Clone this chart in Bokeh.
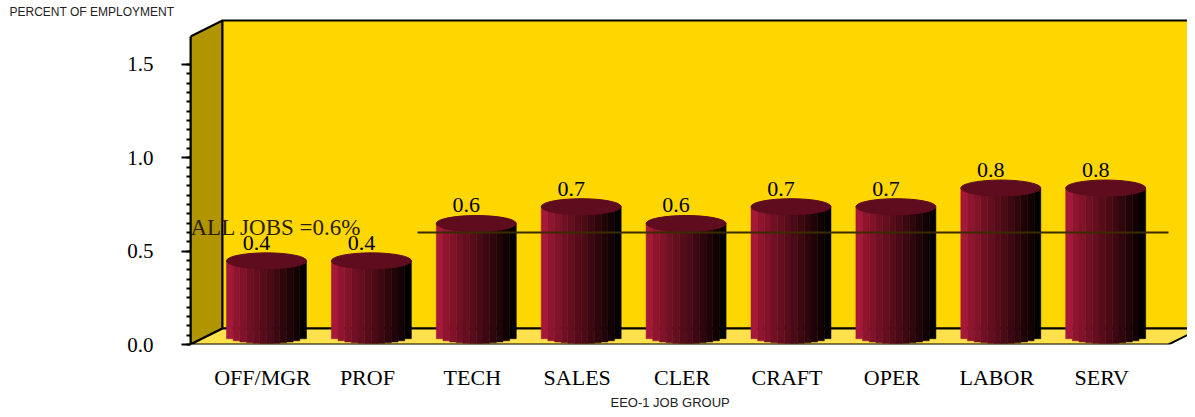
import math
from bokeh.plotting import figure
from bokeh.models import LinearAxis, Range1d, FixedTicker, NumeralTickFormatter, Title
from bokeh.core.properties import value
from bokeh.embed import file_html
from bokeh.resources import INLINE

categories = ["OFF/MGR", "PROF", "TECH", "SALES", "CLER", "CRAFT", "OPER", "LABOR", "SERV"]
values = [0.4, 0.4, 0.6, 0.69, 0.6, 0.69, 0.69, 0.79, 0.79]
all_jobs = 0.6
y_ticks = [0.0, 0.5, 1.0, 1.5]
strip_colors = ["#a6183a", "#8e1430", "#80122a", "#701026", "#640e20", "#570c1c",
                "#4a0a18", "#3c0813", "#2e060e", "#20040a", "#120205", "#030001"]
top_color = "#5e0c1e"
wall_back = "#ffd700"
wall_left = "#b09500"
floor_color = "#ffe04d"
serif = "Liberation Serif"

W, H = 1187, 409
PXX, PXY = 104.9, 186.67
LEFT = 190
BOTTOM = 65
TOP = 18
FRAME_W = W - LEFT
FRAME_H = H - BOTTOM - TOP
x0 = (LEFT - 266) / PXX
x_rng = Range1d(x0, x0 + FRAME_W / PXX)
y_rng = Range1d(0, FRAME_H / PXY)

p = figure(width=W, height=H, x_range=x_rng, y_range=y_rng, output_backend="svg",
           toolbar_location=None, x_axis_type=None, y_axis_type=None,
           frame_width=FRAME_W, frame_height=FRAME_H,
           min_border_left=LEFT, min_border_right=0, min_border_top=TOP, min_border_bottom=BOTTOM)
p.grid.visible = False
p.outline_line_color = None
p.background_fill_color = "white"
p.border_fill_color = "white"

dx, dy = 32 / PXX, 16 / PXY
wall_top = 1.65
xl, xr = x_rng.start, x_rng.end
front_r = (1168 - 266) / PXX

# walls and floor
p.patch([xl, xl + dx, xl + dx, xl], [0, dy, wall_top + dy, wall_top], fill_color=wall_left,
        line_color="black", line_width=2)
p.patch([xl + dx, xr + 2, xr + 2, xl + dx], [dy, dy, wall_top + dy, wall_top + dy],
        fill_color=wall_back, line_color="black", line_width=2)
p.patch([xl, xl + dx, front_r + dx, front_r], [0, dy, dy, 0], fill_color=floor_color,
        line_color="black", line_width=2)

# cylinders
bar_w = 80 / PXX
base = 9 / PXY
ry = 8 / PXY
n = len(strip_colors)
for i, v in enumerate(values):
    for k, c in enumerate(strip_colors):
        u = (k + 0.5) / n * 2 - 1
        p.quad(left=i - bar_w / 2 + k * bar_w / n, right=i - bar_w / 2 + (k + 1) * bar_w / n,
               bottom=base - ry * math.sqrt(1 - u * u), top=base + v,
               fill_color=c, line_color=c, line_width=0.5)
    p.ellipse(x=i, y=base + v, width=bar_w, height=2 * ry, fill_color=top_color, line_color=top_color)

# reference line and labels
p.line([(417 - 266) / PXX, front_r], [all_jobs, all_jobs], line_color="#3a2c00", line_width=2)
p.text(x=list(range(len(values))), y=[base + v + ry for v in values],
       text=[f"{v:.1f}" for v in values], text_font=value(serif), text_font_size="22px",
       text_align="center", text_baseline="alphabetic", x_offset=-10, y_offset=-10, text_color="black")
p.text(x=[xl], y=[all_jobs], text=[f"ALL JOBS ={all_jobs:.1f}%"], text_font=value(serif),
       text_font_size="23px", text_align="left", text_baseline="alphabetic", y_offset=-5,
       text_color="#2a2000")

ya = LinearAxis(ticker=FixedTicker(ticks=y_ticks, minor_ticks=[j * 0.05 for j in range(0, 31)]),
                bounds=(0, wall_top), formatter=NumeralTickFormatter(format="0.0"))
ya.axis_line_color = "black"
ya.axis_line_width = 2
ya.major_tick_line_width = 2
ya.major_tick_in = 0
ya.major_tick_out = 9
ya.minor_tick_in = 0
ya.minor_tick_out = 4
ya.minor_tick_line_width = 2
ya.major_label_standoff = 28
ya.major_label_text_font = serif
ya.major_label_text_font_size = "21px"
ya.major_label_text_color = "black"
p.add_layout(ya, "left")

lab_shift = 4 / PXX
p.extra_x_ranges["xlab"] = Range1d(xl + lab_shift, xr + lab_shift)
xa = LinearAxis(x_range_name="xlab", ticker=FixedTicker(ticks=list(range(len(categories)))),
                major_label_overrides={i: c for i, c in enumerate(categories)})
xa.axis_line_color = None
xa.major_tick_line_color = None
xa.minor_tick_line_color = None
xa.major_label_standoff = 14
xa.major_label_text_font = serif
xa.major_label_text_font_size = "22px"
xa.major_label_text_color = "black"
p.add_layout(xa, "below")

x_title = Title(text="EEO-1 JOB GROUP", align="left", offset=610 - LEFT, standoff=0,
                text_font="Liberation Sans", text_font_size="13px", text_font_style="normal",
                text_color="#222222")
p.add_layout(x_title, "below")

t = Title(text="PERCENT OF EMPLOYMENT", align="left", offset=9 - LEFT, standoff=0,
          text_font="Liberation Sans", text_font_size="12px", text_font_style="normal",
          text_color="#222222")
p.add_layout(t, "above")

open("out.html", "w").write(file_html(p, INLINE))
